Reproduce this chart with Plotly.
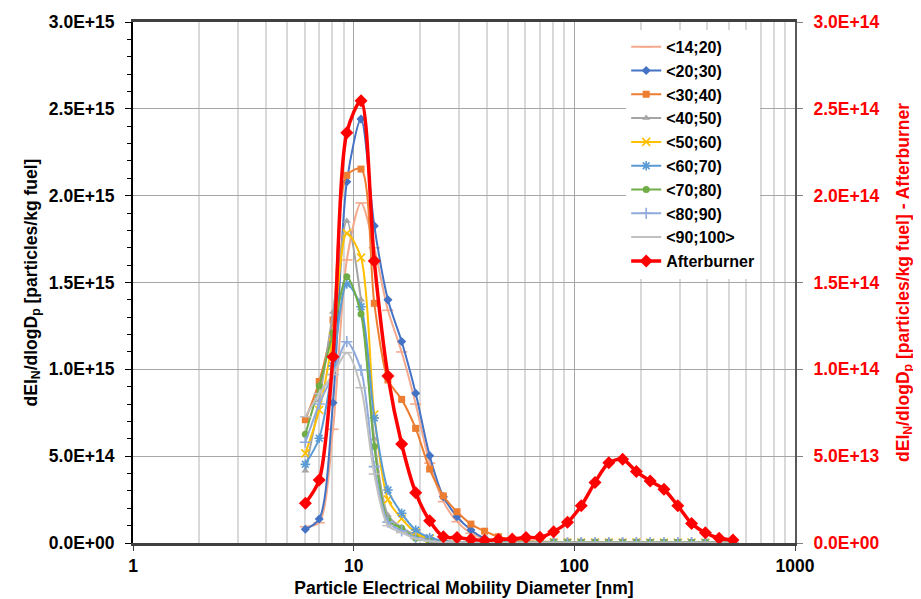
import plotly.graph_objects as go

# Particle electrical mobility diameters [nm]
diameters = [6.04, 6.98, 8.06, 9.31, 10.8, 12.4, 14.3, 16.5, 19.1, 22.1, 25.5, 29.4,
             34.0, 39.2, 45.3, 52.3, 60.4, 69.8, 80.6, 93.1, 107.5, 124.1, 143.3,
             165.5, 191.1, 220.7, 254.8, 294.3, 339.8, 392.4, 453.2, 523.3]

# Values in units of 1e15 particles/kg fuel (primary axis)
s14_20 = [0.094, 0.117, 0.655, 1.63, 1.958, 1.70, 1.34, 1.10, 0.80, 0.46, 0.238, 0.123,
          0.056, 0.022, 0.010, 0.006, 0.004, 0.003, 0.003, 0.003, 0.003, 0.003, 0.003,
          0.003, 0.003, 0.003, 0.003, 0.003, 0.003, 0.002, 0.002, 0.002]
s20_30 = [0.079, 0.138, 0.808, 2.08, 2.441, 1.826, 1.40, 1.16, 0.862, 0.503, 0.267, 0.152,
          0.075, 0.027, 0.010, 0.005, 0.004, 0.003, 0.003, 0.003, 0.003, 0.003, 0.003,
          0.003, 0.003, 0.003, 0.002, 0.002, 0.002, 0.002, 0.002, 0.002]
s30_40 = [0.710, 0.93, 1.284, 2.117, 2.153, 1.38, 0.939, 0.827, 0.66, 0.426, 0.271, 0.18,
          0.109, 0.068, 0.036, 0.020, 0.012, 0.008, 0.006, 0.005, 0.004, 0.004, 0.004,
          0.004, 0.004, 0.003, 0.003, 0.003, 0.003, 0.003, 0.003, 0.003]
s40_50 = [0.416, 0.82, 1.33, 1.854, 1.40, 0.60, 0.16, 0.09, 0.045, 0.020, 0.010, 0.006,
          0.004, 0.003, 0.002, 0.002, 0.002, 0.002, 0.002, 0.002, 0.002, 0.002, 0.002,
          0.002, 0.002, 0.002, 0.002, 0.002, 0.002, 0.002, 0.002, 0.002]
s50_60 = [0.516, 0.766, 1.19, 1.783, 1.643, 0.74, 0.25, 0.14, 0.06, 0.025, 0.010, 0.005,
          0.003, 0.003, 0.002, 0.002, 0.002, 0.002, 0.002, 0.002, 0.002, 0.002, 0.002,
          0.002, 0.002, 0.002, 0.002, 0.002, 0.002, 0.002, 0.002, 0.002]
s60_70 = [0.453, 0.603, 1.02, 1.491, 1.36, 0.72, 0.305, 0.171, 0.075, 0.030, 0.012, 0.006,
          0.004, 0.003, 0.002, 0.002, 0.002, 0.002, 0.002, 0.002, 0.002, 0.002, 0.002,
          0.002, 0.002, 0.002, 0.002, 0.002, 0.002, 0.002, 0.002, 0.002]
s70_80 = [0.626, 0.904, 1.21, 1.533, 1.319, 0.555, 0.132, 0.085, 0.027, 0.010, 0.005, 0.003,
          0.003, 0.003, 0.003, 0.003, 0.003, 0.003, 0.003, 0.003, 0.003, 0.003, 0.003,
          0.003, 0.003, 0.003, 0.003, 0.003, 0.003, 0.003, 0.003, 0.003]
s80_90 = [0.58, 0.80, 0.97, 1.159, 0.996, 0.44, 0.12, 0.07, 0.030, 0.012, 0.005, 0.003,
          0.002, 0.002, 0.002, 0.002, 0.002, 0.002, 0.002, 0.002, 0.002, 0.002, 0.002,
          0.002, 0.002, 0.002, 0.002, 0.002, 0.002, 0.002, 0.002, 0.002]
s90_100 = [0.727, 0.86, 0.97, 1.096, 0.894, 0.397, 0.10, 0.06, 0.025, 0.010, 0.004, 0.003,
           0.002, 0.002, 0.002, 0.002, 0.002, 0.002, 0.002, 0.002, 0.002, 0.002, 0.002,
           0.002, 0.002, 0.002, 0.002, 0.002, 0.002, 0.002, 0.002, 0.002]
# Afterburner in units of 1e14 particles/kg fuel (secondary axis)
afterburner = [0.229, 0.363, 1.073, 2.363, 2.547, 1.624, 0.962, 0.570, 0.29, 0.128, 0.036,
               0.031, 0.021, 0.015, 0.020, 0.023, 0.031, 0.033, 0.065, 0.119, 0.215, 0.349,
               0.462, 0.482, 0.411, 0.357, 0.309, 0.215, 0.113, 0.059, 0.027, 0.017]

series_names = ["<14;20)", "<20;30)", "<30;40)", "<40;50)", "<50;60)", "<60;70)",
                "<70;80)", "<80;90)", "<90;100>"]
series_values = [s14_20, s20_30, s30_40, s40_50, s50_60, s60_70, s70_80, s80_90, s90_100]
series_colors = ["#F5A98C", "#4472C4", "#ED7D31", "#A5A5A5", "#FFC000", "#5B9BD5",
                 "#70AD47", "#8FAADC", "#C0C0C0"]
series_symbols = ["line-ew", "diamond", "square", "triangle-up", "x-thin", "asterisk",
                  "circle", "cross-thin", "line-ew"]

x_tick_vals = [1, 10, 100, 1000]
x_tick_text = ["1", "10", "100", "1000"]
y_tick_vals = [0, 5e14, 1e15, 1.5e15, 2e15, 2.5e15, 3e15]
y_tick_text = ["0.0E+00", "5.0E+14", "1.0E+15", "1.5E+15", "2.0E+15", "2.5E+15", "3.0E+15"]
y2_tick_vals = [0, 5e13, 1e14, 1.5e14, 2e14, 2.5e14, 3e14]
y2_tick_text = ["0.0E+00", "5.0E+13", "1.0E+14", "1.5E+14", "2.0E+14", "2.5E+14", "3.0E+14"]

FONT = "Liberation Sans, Arial, sans-serif"
FS = 17.5

fig = go.Figure()
open_symbols = {"line-ew", "x-thin", "asterisk", "cross-thin"}
for name, vals, col, sym in zip(series_names, series_values, series_colors, series_symbols):
    is_open = sym in open_symbols
    fig.add_trace(go.Scatter(
        x=diameters, y=[v * 1e15 for v in vals], name=name, mode="lines+markers",
        line=dict(color=col, width=2, shape="spline", smoothing=0.8),
        marker=dict(symbol=sym, color=col, size=7 if not is_open else 8,
                    line=dict(color=col, width=1.6 if is_open else 0)),
        yaxis="y",
    ))

fig.add_trace(go.Scatter(
    x=diameters, y=[v * 1e14 for v in afterburner], name="Afterburner", mode="lines+markers",
    line=dict(color="#FF0000", width=3.5, shape="spline", smoothing=0.8),
    marker=dict(symbol="diamond", color="#FF0000", size=10),
    yaxis="y2",
))

minor_x = [m * 10 ** e for e in range(0, 3) for m in range(2, 10)]

fig.update_layout(
    width=913, height=591,
    margin=dict(l=125, r=126, t=14, b=56),
    paper_bgcolor="white", plot_bgcolor="white",
    font=dict(family=FONT, size=FS, color="black", weight="bold"),
    showlegend=True,
    legend=dict(x=0.745, y=0.985, xanchor="left", yanchor="top",
                bgcolor="white", borderwidth=0,
                font=dict(family=FONT, size=16, color="black", weight="bold"),
                tracegroupgap=0),
    xaxis=dict(
        type="log", range=[0, 3],
        tickmode="array", tickvals=x_tick_vals, ticktext=x_tick_text,
        showgrid=True, gridcolor="#A6A6A6", gridwidth=1,
        minor=dict(tickmode="array", tickvals=minor_x, showgrid=True,
                   gridcolor="#D9D9D9", gridwidth=1.5, ticks=""),
        showline=True, linecolor="#404040", linewidth=2.5, mirror=True,
        ticks="outside", ticklen=5, tickcolor="#404040",
        tickfont=dict(family=FONT, size=FS, color="black", weight="bold"),
        title=dict(text="Particle Electrical Mobility Diameter [nm]", standoff=7,
                   font=dict(family=FONT, size=FS, color="black", weight="bold")),
        zeroline=False, automargin=False,
    ),
    yaxis=dict(
        range=[0, 3e15],
        tickmode="array", tickvals=y_tick_vals, ticktext=y_tick_text,
        showgrid=True, gridcolor="#A6A6A6", gridwidth=1,
        minor=dict(dtick=1e14, ticks="outside", ticklen=4, tickcolor="black", showgrid=False),
        showline=True, linecolor="black", linewidth=2,
        ticks="outside", ticklen=6, tickcolor="black", ticklabelstandoff=7,
        tickfont=dict(family=FONT, size=FS, color="black", weight="bold"),
        title=dict(text="dEI<sub>N</sub>/dlogD<sub>p</sub> [particles/kg fuel]", standoff=7,
                   font=dict(family=FONT, size=FS, color="black", weight="bold")),
        zeroline=False, automargin=False,
    ),
    yaxis2=dict(
        range=[0, 3e14], overlaying="y", side="right",
        tickmode="array", tickvals=y2_tick_vals, ticktext=y2_tick_text,
        showgrid=False,
        showline=True, linecolor="#595959", linewidth=2,
        ticks="outside", ticklen=6, tickcolor="#808080", ticklabelstandoff=7,
        tickfont=dict(family=FONT, size=FS, color="#FF0000", weight="bold"),
        title=dict(text="dEI<sub>N</sub>/dlogD<sub>p</sub> [particles/kg fuel] - Afterburner",
                   standoff=18,
                   font=dict(family=FONT, size=FS, color="#FF0000", weight="bold")),
        zeroline=False, automargin=False,
    ),
)

fig.write_html("out.html")
